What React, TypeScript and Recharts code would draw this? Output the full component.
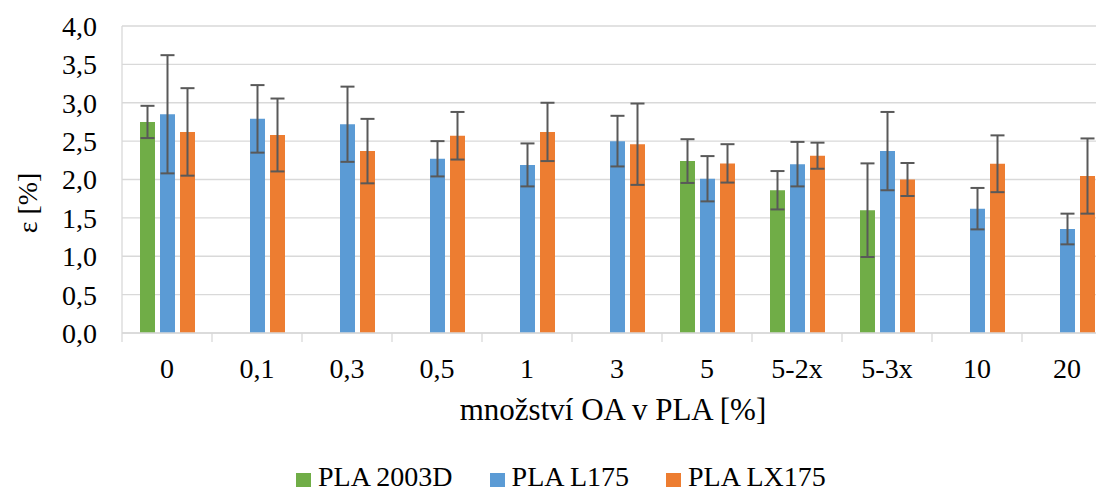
import { BarChart, Bar, XAxis, YAxis, CartesianGrid, ErrorBar } from 'recharts';

// množství OA v PLA [%]
const categories = ['0', '0,1', '0,3', '0,5', '1', '3', '5', '5-2x', '5-3x', '10', '20'];

const pla2003D = [2.75, null, null, null, null, null, 2.24, 1.86, 1.6, null, null];
const pla2003DErr = [0.21, null, null, null, null, null, 0.285, 0.25, 0.61, null, null];

const plaL175 = [2.85, 2.79, 2.72, 2.27, 2.19, 2.5, 2.01, 2.2, 2.37, 1.62, 1.355];
const plaL175Err = [0.77, 0.44, 0.49, 0.23, 0.28, 0.33, 0.295, 0.29, 0.51, 0.27, 0.2];

const plaLX175 = [2.62, 2.58, 2.37, 2.57, 2.62, 2.46, 2.21, 2.31, 2.0, 2.205, 2.045];
const plaLX175Err = [0.57, 0.475, 0.42, 0.31, 0.38, 0.53, 0.25, 0.17, 0.215, 0.37, 0.49];

const yTicks = [0, 0.5, 1, 1.5, 2, 2.5, 3, 3.5, 4];

const SERIES = [
  { key: 'pla2003D', name: 'PLA 2003D', color: '#70AD47' },
  { key: 'plaL175', name: 'PLA L175', color: '#5B9BD5' },
  { key: 'plaLX175', name: 'PLA LX175', color: '#ED7D31' },
];

const data = categories.map((name, i) => ({
  name,
  pla2003D: pla2003D[i],
  pla2003DErr: pla2003DErr[i],
  plaL175: plaL175[i],
  plaL175Err: plaL175Err[i],
  plaLX175: plaLX175[i],
  plaLX175Err: plaLX175Err[i],
}));

const FONT = '"Liberation Serif", "Times New Roman", serif';
const GRID = '#d9d9d9';
const CHART_W = 1120;
const Y_W = 122;
const RIGHT = 8;
const HALF_BAND = (CHART_W - Y_W - RIGHT) / categories.length / 2;

function CategoryTick(props: any) {
  const { x, y, payload } = props;
  const half = payload?.offset || HALF_BAND;
  return (
    <g>
      <line x1={x - half} x2={x - half} y1={y} y2={y + 9} stroke={GRID} strokeWidth={1.3} />
      <text x={x} y={y + 45} textAnchor="middle" fill="#000" fontSize={28} fontFamily={FONT}>
        {payload.value}
      </text>
    </g>
  );
}

function YTitle() {
  return (
    <text
      x={27}
      y={203}
      transform="rotate(-90 27 203)"
      textAnchor="middle"
      dominantBaseline="central"
      fill="#000"
      fontSize={28}
      fontFamily={FONT}
    >
      ε [%]
    </text>
  );
}

export default function App() {
  return (
    <div
      style={{
        position: 'relative',
        width: 1104,
        height: 495,
        margin: -8,
        overflow: 'hidden',
        background: '#fff',
        fontFamily: FONT,
      }}
    >
      <BarChart
        width={CHART_W}
        height={495}
        data={data}
        margin={{ top: 26, right: RIGHT, bottom: 0, left: 0 }}
        barSize={15}
        barGap={5}
      >
        <CartesianGrid vertical={false} stroke={GRID} strokeWidth={1.3} />
        <XAxis
          dataKey="name"
          height={162}
          interval={0}
          tickSize={0}
          tickMargin={0}
          tickLine={false}
          axisLine={{ stroke: GRID, strokeWidth: 1.3 }}
          tick={<CategoryTick />}
          label={{
            value: 'množství OA v PLA [%]',
            position: 'insideBottom',
            offset: 75,
            dx: -4,
            fill: '#000',
            fontSize: 31,
            fontFamily: FONT,
          }}
        />
        <YAxis
          width={Y_W}
          domain={[0, 4]}
          ticks={yTicks}
          interval={0}
          tickLine={false}
          tickSize={6}
          tickMargin={19}
          axisLine={{ stroke: GRID, strokeWidth: 1.3 }}
          tick={{ fill: '#000', fontSize: 28, fontFamily: FONT }}
          tickFormatter={(v: number) => v.toFixed(1).replace('.', ',')}
          label={<YTitle />}
        />
        {SERIES.map((s) => (
          <Bar key={s.key} dataKey={s.key} name={s.name} fill={s.color} isAnimationActive={false}>
            <ErrorBar dataKey={`${s.key}Err`} width={7} stroke="#595959" strokeWidth={2} />
          </Bar>
        ))}
      </BarChart>

      {/* legend */}
      <div
        style={{
          position: 'absolute',
          left: 296,
          top: 463,
          display: 'flex',
          alignItems: 'flex-start',
          whiteSpace: 'nowrap',
        }}
      >
        {SERIES.map((s) => (
          <div key={s.key} style={{ display: 'flex', alignItems: 'flex-start', marginRight: 37 }}>
            <span
              style={{ display: 'inline-block', width: 15, height: 15, marginTop: 10, marginRight: 7, background: s.color }}
            />
            <span style={{ fontSize: 28, lineHeight: '28px', color: '#000' }}>{s.name}</span>
          </div>
        ))}
      </div>
    </div>
  );
}
